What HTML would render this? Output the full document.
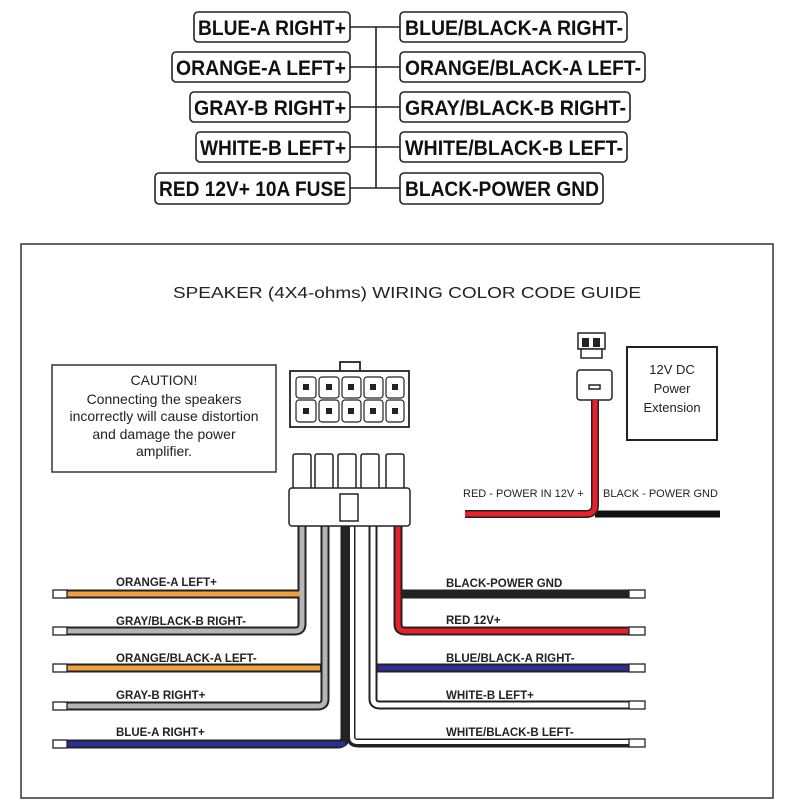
<!DOCTYPE html>
<html><head><meta charset="utf-8"><style>
html,body{margin:0;padding:0;background:#fff;}
svg{display:block;}
.lb{font-family:"Liberation Sans",sans-serif;font-weight:bold;font-size:21px;fill:#111;}
.wl{font-family:"Liberation Sans",sans-serif;font-weight:bold;font-size:11.5px;fill:#222;}
.t{font-family:"Liberation Sans",sans-serif;fill:#222;}
</style></head><body>
<svg width="789" height="803" viewBox="0 0 789 803" xmlns="http://www.w3.org/2000/svg">
<g fill="none" stroke="#222" stroke-width="1.6">
<rect x="194" y="12" width="156" height="30" rx="4"/>
<rect x="172" y="52" width="178" height="30" rx="4"/>
<rect x="190" y="92" width="160" height="30" rx="4"/>
<rect x="196" y="132" width="154" height="30" rx="4"/>
<rect x="155" y="173" width="195" height="31" rx="4"/>
<rect x="400" y="12" width="227" height="30" rx="4"/>
<rect x="400" y="52" width="245" height="30" rx="4"/>
<rect x="400" y="92" width="230" height="30" rx="4"/>
<rect x="400" y="132" width="227" height="30" rx="4"/>
<rect x="400" y="173" width="203" height="31" rx="4"/>
<path d="M376 27V188M350 27H400M350 67H400M350 107H400M350 147H400M350 188H400"/>
</g>
<g class="lb" text-anchor="end">
<text x="346" y="35" textLength="148" lengthAdjust="spacingAndGlyphs">BLUE-A RIGHT+</text>
<text x="346" y="75" textLength="170" lengthAdjust="spacingAndGlyphs">ORANGE-A LEFT+</text>
<text x="346" y="115" textLength="152" lengthAdjust="spacingAndGlyphs">GRAY-B RIGHT+</text>
<text x="346" y="155" textLength="146" lengthAdjust="spacingAndGlyphs">WHITE-B LEFT+</text>
<text x="346" y="196" textLength="187" lengthAdjust="spacingAndGlyphs">RED 12V+ 10A FUSE</text>
</g>
<g class="lb">
<text x="405" y="35" textLength="218" lengthAdjust="spacingAndGlyphs">BLUE/BLACK-A RIGHT-</text>
<text x="405" y="75" textLength="236" lengthAdjust="spacingAndGlyphs">ORANGE/BLACK-A LEFT-</text>
<text x="405" y="115" textLength="221" lengthAdjust="spacingAndGlyphs">GRAY/BLACK-B RIGHT-</text>
<text x="405" y="155" textLength="218" lengthAdjust="spacingAndGlyphs">WHITE/BLACK-B LEFT-</text>
<text x="405" y="196" textLength="194" lengthAdjust="spacingAndGlyphs">BLACK-POWER GND</text>
</g>
<rect x="21" y="244" width="752" height="554" fill="none" stroke="#333" stroke-width="1.5"/>
<text class="t" x="407" y="298" font-size="16" text-anchor="middle" textLength="468" lengthAdjust="spacingAndGlyphs">SPEAKER  (4X4-ohms)  WIRING COLOR CODE GUIDE</text>
<rect x="52" y="365" width="224" height="107" fill="none" stroke="#333" stroke-width="1.5"/>
<g class="t" font-size="14" text-anchor="middle">
<text x="164" y="385">CAUTION!</text>
<text x="164" y="404">Connecting the speakers</text>
<text x="164" y="421">incorrectly will cause distortion</text>
<text x="164" y="439">and damage the power</text>
<text x="164" y="456">amplifier.</text>
</g>
<!-- top connector -->
<g fill="#fff" stroke="#222" stroke-width="1.8">
<rect x="340" y="362" width="20" height="10"/>
<rect x="290" y="371" width="119" height="56"/>
</g>
<g fill="#fff" stroke="#222" stroke-width="1.2">
<rect x="296" y="377" width="20" height="21" rx="3"/><rect x="319" y="377" width="20" height="21" rx="3"/><rect x="342" y="377" width="19" height="21" rx="3"/><rect x="364" y="377" width="19" height="21" rx="3"/><rect x="386" y="377" width="18" height="21" rx="3"/>
<rect x="296" y="400" width="20" height="22" rx="3"/><rect x="319" y="400" width="20" height="22" rx="3"/><rect x="342" y="400" width="19" height="22" rx="3"/><rect x="364" y="400" width="19" height="22" rx="3"/><rect x="386" y="400" width="18" height="22" rx="3"/>
</g>
<g fill="#222"><rect x="303" y="384" width="6" height="6"/><rect x="326" y="384" width="6" height="6"/><rect x="348" y="384" width="6" height="6"/><rect x="370" y="384" width="6" height="6"/><rect x="392" y="384" width="6" height="6"/>
<rect x="303" y="408" width="6" height="6"/><rect x="326" y="408" width="6" height="6"/><rect x="348" y="408" width="6" height="6"/><rect x="370" y="408" width="6" height="6"/><rect x="392" y="408" width="6" height="6"/></g>
<!-- wires -->
<g fill="none" stroke-linejoin="round">
<g stroke="#222" stroke-width="9">
<path d="M302 525V590Q302 594 298 594H66"/>
<path d="M302 525V624Q302 631 295 631H66"/>
<path d="M325 525V663Q325 668 320 668H66"/>
<path d="M325 525V699Q325 706 318 706H66"/>
<path d="M345 525V737Q345 744 338 744H66"/>
<path d="M398 525V590Q398 594 402 594H630"/>
<path d="M398 525V624Q398 631 405 631H630"/>
<path d="M373 525V663Q373 668 378 668H630"/>
<path d="M373 525V699Q373 705 380 705H630"/>
<path d="M351 525V737Q351 743 358 743H630"/>
</g>
<path d="M302 525V624Q302 631 295 631H66" stroke="#b5b5b5" stroke-width="5"/>
<path d="M302 525V590Q302 594 298 594H66" stroke="#f0a040" stroke-width="5"/>
<path d="M302 525V600" stroke="#b5b5b5" stroke-width="5"/>
<path d="M325 525V699Q325 706 318 706H66" stroke="#b5b5b5" stroke-width="5"/>
<path d="M320 668H66" stroke="#f0a040" stroke-width="5"/>
<path d="M345 744H66" stroke="#2a2f9a" stroke-width="5"/>
<path d="M398 525V624Q398 631 405 631H630" stroke="#e8202a" stroke-width="5"/>
<path d="M373 525V699Q373 705 380 705H630" stroke="#fff" stroke-width="5"/>
<path d="M378 668H630" stroke="#2a2f9a" stroke-width="5"/>
<path d="M352 525V737Q352 742 358 742H630" stroke="#fff" stroke-width="4"/>
</g>
<g fill="#fff" stroke="#222" stroke-width="1.3">
<rect x="53" y="590" width="14" height="8"/><rect x="53" y="627" width="14" height="8"/><rect x="53" y="664" width="14" height="8"/><rect x="53" y="702" width="14" height="8"/><rect x="53" y="740" width="14" height="8"/>
<rect x="629" y="590" width="16" height="8"/><rect x="629" y="627" width="16" height="8"/><rect x="629" y="664" width="16" height="8"/><rect x="629" y="701" width="16" height="8"/><rect x="629" y="739" width="16" height="8"/>
</g>
<g class="wl">
<text x="116" y="586">ORANGE-A LEFT+</text>
<text x="116" y="625">GRAY/BLACK-B RIGHT-</text>
<text x="116" y="662">ORANGE/BLACK-A LEFT-</text>
<text x="116" y="699">GRAY-B RIGHT+</text>
<text x="116" y="736">BLUE-A RIGHT+</text>
<text x="446" y="587">BLACK-POWER GND</text>
<text x="446" y="624">RED 12V+</text>
<text x="446" y="662">BLUE/BLACK-A RIGHT-</text>
<text x="446" y="699">WHITE-B LEFT+</text>
<text x="446" y="736">WHITE/BLACK-B LEFT-</text>
</g>
<!-- lower connector -->
<g fill="#fff" stroke="#222" stroke-width="1.5">
<rect x="293" y="454" width="18" height="40" rx="2"/><rect x="315" y="454" width="18" height="40" rx="2"/><rect x="338" y="454" width="18" height="40" rx="2"/><rect x="361" y="454" width="18" height="40" rx="2"/><rect x="386" y="454" width="18" height="40" rx="2"/>
<rect x="289" y="488" width="121" height="38" rx="3"/>
<path d="M340 494H358V521H340Z"/>
</g>
<!-- power -->
<g fill="#fff" stroke="#222" stroke-width="1.5">
<rect x="578" y="333" width="27" height="16"/>
<rect x="581" y="349" width="21" height="9"/>
<rect x="577" y="370" width="35" height="30" rx="3"/>
<rect x="627" y="347" width="90" height="93" stroke-width="2"/>
</g>
<rect x="582" y="338" width="7" height="9" fill="#222"/><rect x="593" y="338" width="7" height="9" fill="#222"/>
<rect x="589" y="385" width="11" height="4" fill="#fff" stroke="#222" stroke-width="1.5"/>
<path d="M595 514H720" stroke="#111" stroke-width="7" fill="none"/>
<path d="M465 514H586Q595 514 595 505V400" stroke="#222" stroke-width="8" fill="none"/>
<path d="M465 514H586Q595 514 595 505V400" stroke="#e8202a" stroke-width="5" fill="none"/>
<g class="t" font-size="13" text-anchor="middle"><text x="672" y="374">12V DC</text><text x="672" y="393">Power</text><text x="672" y="412">Extension</text></g>
<text class="t" x="463" y="497" font-size="11">RED - POWER IN 12V +</text>
<text class="t" x="603" y="497" font-size="11">BLACK - POWER GND</text>
</svg>
</body></html>
